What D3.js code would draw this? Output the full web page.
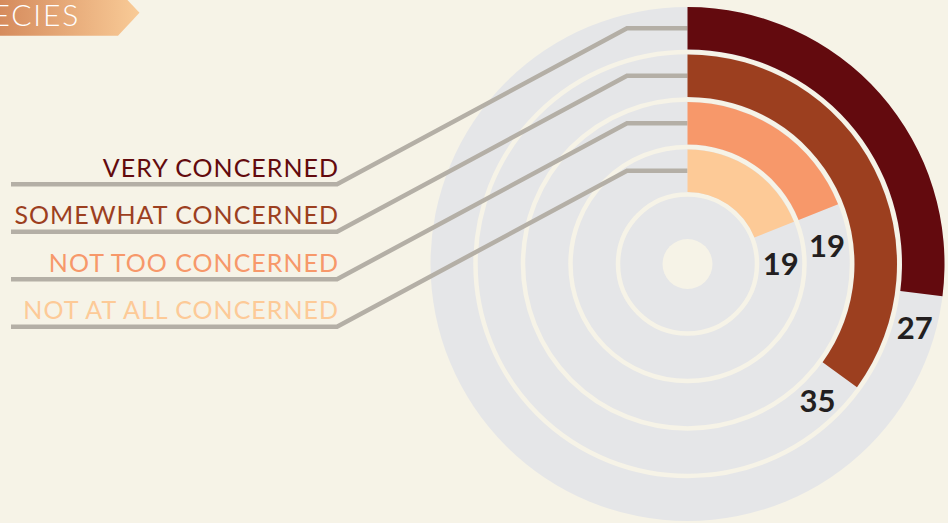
<!DOCTYPE html>
<html>
<head>
<meta charset="utf-8">
<script src="https://cdn.jsdelivr.net/npm/d3@7/dist/d3.min.js"></script>
<style>
  html, body { margin: 0; padding: 0; background: #f6f3e7; }
  svg { display: block; }
</style>
</head>
<body>
<svg id="chart" width="948" height="523"></svg>
<script>
// ---- data ----
const categories = ["VERY CONCERNED", "SOMEWHAT CONCERNED", "NOT TOO CONCERNED", "NOT AT ALL CONCERNED"];
const values = [27, 35, 19, 19];
const colors = ["#630a0e", "#9c3f1f", "#f7986a", "#fdca97"];
const titleText = "SPECIES";

// ---- layout ----
const W = 948, H = 523;
const cx = 687.5, cy = 264;
const outerR = 259.5, innerR = 69.5, holeR = 25, discR = 257;
const bg = "#f6f3e7", ringGray = "#e5e6e8", leaderColor = "#b4afa6";

const svg = d3.select("#chart");
svg.append("rect").attr("width", W).attr("height", H).attr("fill", bg);

// title banner
const defs = svg.append("defs");
const grad = defs.append("linearGradient").attr("id", "bannerGrad")
  .attr("x1", "0%").attr("x2", "100%").attr("y1", "0%").attr("y2", "0%");
grad.append("stop").attr("offset", "0%").attr("stop-color", "#d4895b");
grad.append("stop").attr("offset", "100%").attr("stop-color", "#f9cb97");
svg.append("path")
  .attr("d", "M-5,-10 L118,-10 L139.5,12.8 L118,35.7 L-5,35.7 Z")
  .attr("fill", "url(#bannerGrad)");
svg.append("text")
  .attr("x", 80).attr("y", 25.5)
  .attr("text-anchor", "end")
  .attr("font-family", "Lato, sans-serif")
  .attr("font-weight", 300)
  .attr("font-size", 30)
  .attr("letter-spacing", 1.8)
  .attr("fill", "#ffffff")
  .text(titleText);

// scales
const rScale = d3.scaleBand().domain(categories).range([outerR, innerR])
  .paddingInner(0.10526).paddingOuter(0.05263);
const aScale = d3.scaleLinear().domain([0, 100]).range([0, 2 * Math.PI]);
const color = d3.scaleOrdinal().domain(categories).range(colors);

const g = svg.append("g").attr("transform", `translate(${cx},${cy})`);

// gray disc
g.append("circle").attr("r", discR).attr("fill", ringGray);

// separators
const sepGap = rScale.step() * rScale.paddingInner() / 2;
g.selectAll("circle.sep").data(categories).join("circle")
  .attr("class", "sep")
  .attr("r", d => rScale(d) - sepGap)
  .attr("fill", "none")
  .attr("stroke", bg)
  .attr("stroke-width", 4.5);

// hole
g.append("circle").attr("r", holeR).attr("fill", bg);

// leader lines + labels
const kinkX = 627 - cx, leftKinkX = 337 - cx, startX = 11 - cx, dropY = 156;
const rows = categories.map((c, i) => ({ c, v: values[i], mid: rScale(c) + rScale.bandwidth() / 2 }));

g.selectAll("path.leader").data(rows).join("path")
  .attr("class", "leader")
  .attr("d", d => {
    const yTop = -d.mid, yLow = -d.mid + dropY;
    return `M${startX},${yLow} L${leftKinkX},${yLow} L${kinkX},${yTop} L0,${yTop}`;
  })
  .attr("fill", "none")
  .attr("stroke", leaderColor)
  .attr("stroke-width", 4.5)
  .attr("stroke-linejoin", "miter");

g.selectAll("text.cat").data(rows).join("text")
  .attr("class", "cat")
  .attr("x", leftKinkX + 2)
  .attr("y", d => -d.mid + dropY - 7.5)
  .attr("text-anchor", "end")
  .attr("font-family", "Lato, sans-serif")
  .attr("font-weight", 400)
  .attr("font-size", 25)
  .attr("letter-spacing", 1)
  .attr("fill", d => color(d.c))
  .text(d => d.c);

// bars
const arc = d3.arc()
  .innerRadius(d => rScale(d.c))
  .outerRadius(d => rScale(d.c) + rScale.bandwidth())
  .startAngle(0)
  .endAngle(d => aScale(d.v));
g.selectAll("path.bar").data(rows).join("path")
  .attr("class", "bar")
  .attr("d", arc)
  .attr("fill", d => color(d.c));

// value labels
const labelOffset = 34;
g.selectAll("text.val").data(rows).join("text")
  .attr("class", "val")
  .attr("transform", d => {
    const a = aScale(d.v) + labelOffset / d.mid;
    return `translate(${d.mid * Math.sin(a)},${-d.mid * Math.cos(a)})`;
  })
  .attr("text-anchor", "middle")
  .attr("dominant-baseline", "central")
  .attr("font-family", "Lato, sans-serif")
  .attr("font-weight", 700)
  .attr("font-size", 31)
  .attr("fill", "#231f20")
  .text(d => d.v);
</script>
</body>
</html>
